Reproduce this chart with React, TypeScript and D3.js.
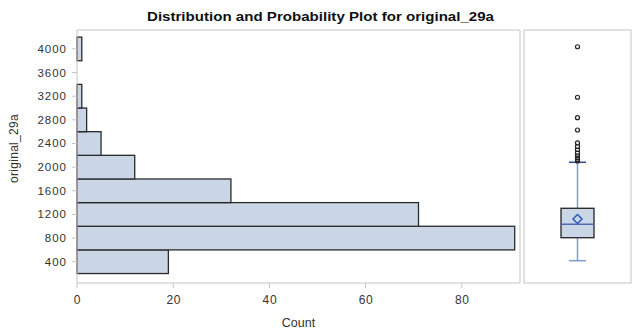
import React from "react";
import * as d3 from "d3";

const binCenters = [400, 800, 1200, 1600, 2000, 2400, 2800, 3200, 3600, 4000];
const binCounts = [19, 91, 71, 32, 12, 5, 2, 1, 0, 1];
const binWidth = 400;
const yTickValues = [400, 800, 1200, 1600, 2000, 2400, 2800, 3200, 3600, 4000];
const xTickValues = [0, 20, 40, 60, 80];
const boxQuartiles = [806, 1033, 1304];
const boxWhiskers = [417, 2082];
const boxMean = [1123];
const outliers = [2105, 2130, 2160, 2190, 2215, 2250, 2300, 2350, 2410, 2628, 2836, 3182, 4037];

const W = 632;
const H = 335;
const left = { x0: 77, x1: 520 };
const right = { x0: 524, x1: 631 };
const top = 30;
const bottom = 283;
const font = "Liberation Sans, Arial, sans-serif";
const fill = "#CAD5E5";
const frame = "#C4C4C4";

export default function App() {
  const y = d3.scaleLinear().domain([40, 4320]).range([bottom, top]);
  const x = d3.scaleLinear().domain([0, 92.1]).range([left.x0, left.x1]);
  const cx = (right.x0 + right.x1) / 2;
  const bw = 33;
  const [q1, med, q3] = boxQuartiles;
  const [wLo, wHi] = boxWhiskers;
  const mY = y(boxMean[0]);
  const d = 4.5;

  return (
    <svg width={W} height={H} style={{ position: "absolute", left: 0, top: 0, background: "#fff" }}>
      <text
        x={147}
        y={21}
        textLength={347}
        lengthAdjust="spacingAndGlyphs"
        fontFamily={font}
        fontWeight="bold"
        fontSize={13.5}
        fill="#111"
      >
        Distribution and Probability Plot for original_29a
      </text>

      {/* histogram bars */}
      {binCenters.map((c, i) =>
        binCounts[i] > 0 ? (
          <rect
            key={c}
            x={x(0)}
            y={y(c + binWidth / 2)}
            width={x(binCounts[i]) - x(0)}
            height={y(c - binWidth / 2) - y(c + binWidth / 2)}
            fill={fill}
            stroke="#2a2a2a"
            strokeWidth={1.3}
          />
        ) : null
      )}

      {/* left panel frame */}
      <line x1={left.x0} x2={left.x1} y1={top} y2={top} stroke={frame} />
      <line x1={left.x1} x2={left.x1} y1={top} y2={bottom} stroke={frame} />
      <line x1={left.x0} x2={left.x0} y1={top} y2={bottom} stroke={frame} />
      <line x1={left.x0} x2={left.x1} y1={bottom} y2={bottom} stroke={frame} />

      {/* y ticks */}
      {yTickValues.map((v) => (
        <g key={v}>
          <line x1={left.x0 - 5} x2={left.x0} y1={y(v)} y2={y(v)} stroke={frame} />
          <text
            x={left.x0 - 10}
            y={y(v) + 4}
            textAnchor="end"
            fontFamily={font}
            fontSize={11.5}
            letterSpacing={1}
            fill="#333"
          >
            {v}
          </text>
        </g>
      ))}
      <text
        transform={`translate(18,${(top + bottom) / 2 - 8}) rotate(-90)`}
        textAnchor="middle"
        fontFamily={font}
        fontSize={12}
        letterSpacing={0.3}
        fill="#333"
      >
        original_29a
      </text>

      {/* x ticks */}
      {xTickValues.map((v) => (
        <g key={v}>
          <line x1={x(v)} x2={x(v)} y1={bottom} y2={bottom + 5} stroke={frame} />
          <text
            x={x(v) + 0.5}
            y={bottom + 21}
            textAnchor="middle"
            fontFamily={font}
            fontSize={12}
            letterSpacing={0.6}
            fill="#333"
          >
            {v}
          </text>
        </g>
      ))}
      <text x={(left.x0 + left.x1) / 2} y={327} textAnchor="middle" fontFamily={font} fontSize={12.5} fill="#333">
        Count
      </text>

      {/* right panel frame */}
      <rect x={right.x0} y={top} width={right.x1 - right.x0} height={bottom - top} fill="none" stroke={frame} />

      {/* box plot */}
      <line x1={cx} x2={cx} y1={y(wLo)} y2={y(q1)} stroke="#7F9DCB" strokeWidth={1.5} />
      <line x1={cx} x2={cx} y1={y(q3)} y2={y(wHi)} stroke="#7F9DCB" strokeWidth={1.5} />
      <line x1={cx - 8.5} x2={cx + 8.5} y1={y(wLo)} y2={y(wLo)} stroke="#7F9DCB" strokeWidth={1.5} />
      <line x1={cx - 8.5} x2={cx + 8.5} y1={y(wHi)} y2={y(wHi)} stroke="#2E4A8C" strokeWidth={1.5} />
      <rect x={cx - bw / 2} y={y(q3)} width={bw} height={y(q1) - y(q3)} fill={fill} stroke="#222" strokeWidth={1.3} />
      <line x1={cx - bw / 2} x2={cx + bw / 2} y1={y(med)} y2={y(med)} stroke="#4C6BB0" strokeWidth={1.5} />
      <path
        d={`M${cx},${mY - d} L${cx + d},${mY} L${cx},${mY + d} L${cx - d},${mY} Z`}
        fill="none"
        stroke="#2D59C0"
        strokeWidth={1.5}
      />
      {outliers.map((v, i) => (
        <circle key={i} cx={cx} cy={y(v)} r={2} fill="#fff" stroke="#222" strokeWidth={1.2} />
      ))}
    </svg>
  );
}
